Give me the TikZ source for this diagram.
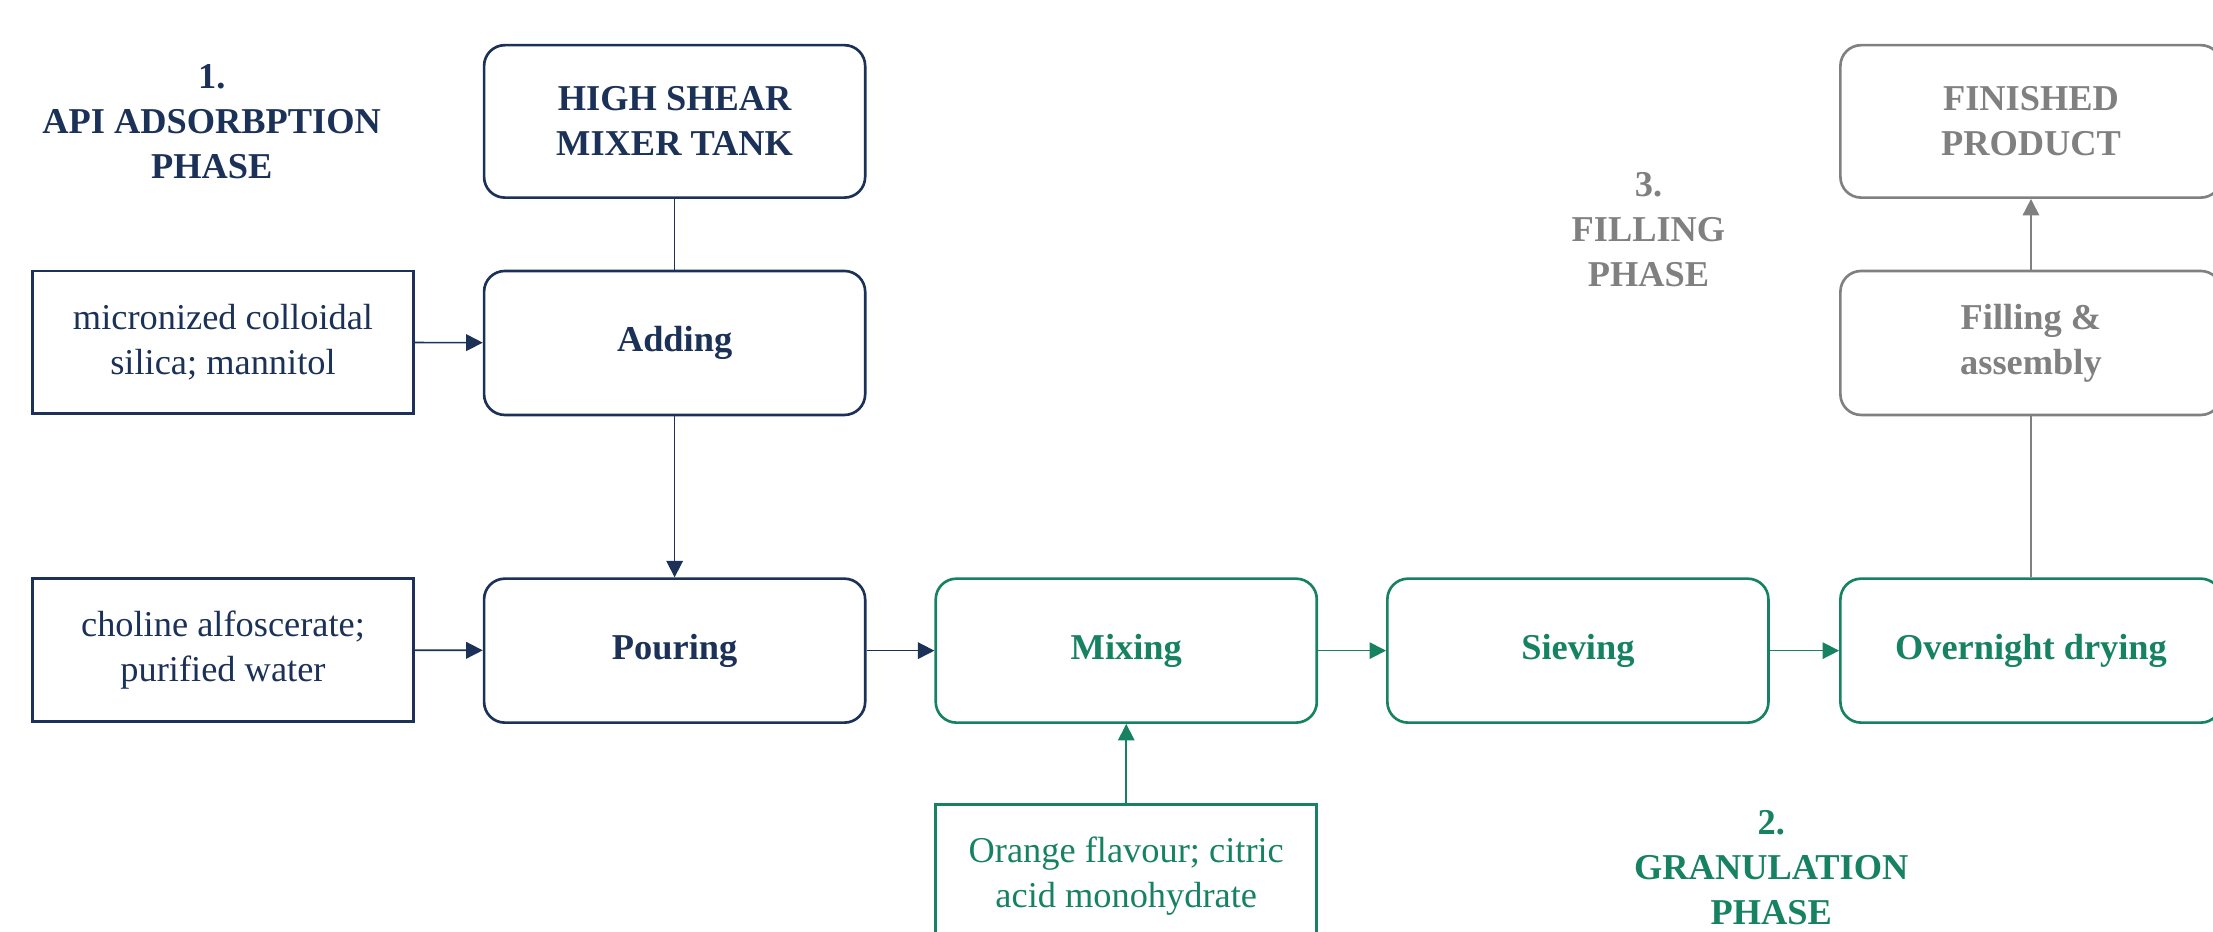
\documentclass[tikz,border=0pt]{standalone}
\usepackage{fontspec}
\setmainfont{Liberation Serif}
\usepackage{tikz}
\usetikzlibrary{positioning}
\usetikzlibrary{arrows.meta}
\definecolor{navy}{HTML}{1B3157}
\definecolor{granul}{HTML}{168262}
\definecolor{fill3}{HTML}{808080}
\tikzset{step box/.style={draw, rounded corners=0.22cm, line width=0.8pt, minimum width=4.05cm, minimum height=1.53cm, align=center, font=\fontsize{11}{13.6}\selectfont\bfseries}}
\tikzset{input box/.style={draw, line width=0.8pt, minimum width=4.05cm, minimum height=1.515cm, align=center, font=\fontsize{11}{13.6}\selectfont}}
\tikzset{phase/.style={align=center, font=\fontsize{11}{13.6}\selectfont\bfseries}}
\tikzset{>={Triangle[length=5pt,width=5pt]}}

\begin{document}
\begin{tikzpicture}[x=0.015cm,y=-0.015cm]
\useasboundingbox (0,0) rectangle (1568,660);
\clip (0,0) rectangle (1568,660);
\begin{scope}[color=navy]
\node[phase] (ph1) at (150,86) {1.\\API ADSORBPTION\\PHASE};
\node[step box, minimum height=1.62cm] (tank) at (478,86) {HIGH SHEAR\\MIXER TANK};
\node[step box] (adding) at (478,243) {Adding};
\node[step box] (pouring) at (478,461) {Pouring};
\node[input box] (silica) at (158,242.5) {micronized colloidal\\silica; mannitol};
\node[input box] (choline) at (158,460.5) {choline alfoscerate;\\purified water};
\draw[line width=0.5pt] (tank) -- (adding);
\draw[->, line width=0.5pt] (adding) -- (pouring);
\draw[->, line width=0.5pt] (silica) -- (adding);
\draw[->, line width=0.5pt] (choline) -- (pouring);
\end{scope}
\begin{scope}[color=granul]
\node[step box] (mixing) at (798,461) {Mixing};
\node[step box] (sieving) at (1118,461) {Sieving};
\node[step box] (drying) at (1439,461) {Overnight drying};
\node[input box] (orange) at (798,620.5) {Orange flavour; citric\\acid monohydrate};
\node[phase] (ph2) at (1255,615) {2.\\GRANULATION\\PHASE};
\foreach \a/\b in {mixing/sieving,sieving/drying} {
\draw[->, line width=0.5pt] (\a) -- (\b);
}
\draw[->, line width=0.5pt] (orange) -- (mixing);
\end{scope}
\draw[->, navy, line width=0.5pt] (pouring) -- (mixing);
\begin{scope}[color=fill3]
\node[step box] (filling) at (1439,243) {Filling \&\\assembly};
\node[step box, minimum height=1.62cm] (finished) at (1439,86) {FINISHED\\PRODUCT};
\node[phase] (ph3) at (1168,163) {3.\\FILLING\\PHASE};
\draw[line width=0.5pt] (drying) -- (filling);
\draw[->, line width=0.5pt] (filling) -- (finished);
\end{scope}
\end{tikzpicture}
\end{document}
